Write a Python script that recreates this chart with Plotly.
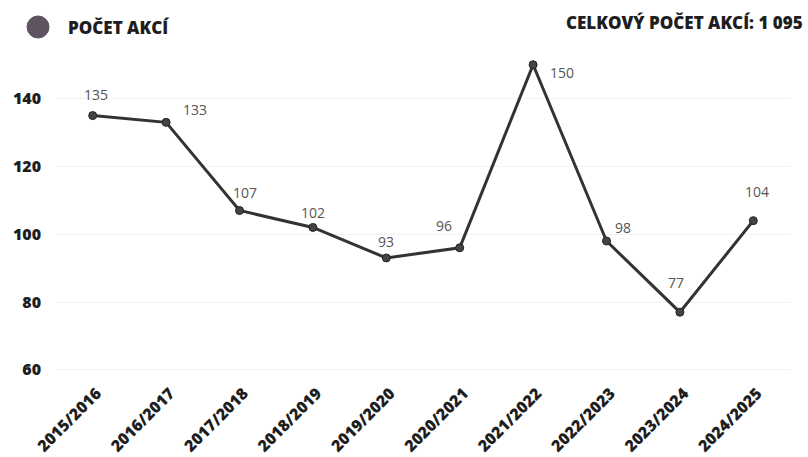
import plotly.graph_objects as go

seasons = ["2015/2016", "2016/2017", "2017/2018", "2018/2019", "2019/2020",
           "2020/2021", "2021/2022", "2022/2023", "2023/2024", "2024/2025"]
akce = [135, 133, 107, 102, 93, 96, 150, 98, 77, 104]
label_dx = [3, 29, 5, 0, 0, -16, 29, 16, -4, 4]
label_dy = [21, 13, 18, 15, 16, 22, -8, 14, 30, 29]
y_ticks = [60, 80, 100, 120, 140]
total_text = "CELKOVÝ POČET AKCÍ: 1 095"
legend_name = "POČET AKCÍ"

fig = go.Figure()
fig.add_trace(go.Scatter(
    x=seasons, y=akce, mode="lines+markers",
    line=dict(color="#333333", width=3),
    marker=dict(size=8, color="#444444", line=dict(color="#222222", width=1)),
    showlegend=False,
))

annotations = [dict(x=s, y=v, text=str(v), showarrow=False, xshift=dx, yshift=dy,
                    font=dict(family="Open Sans", size=14, color="#555555"))
               for s, v, dx, dy in zip(seasons, akce, label_dx, label_dy)]
annotations.append(dict(text=total_text, xref="paper", yref="paper",
                        x=1.021, y=1.056, xanchor="right", yanchor="middle",
                        showarrow=False,
                        font=dict(family="Open Sans", size=17, color="#1e1e1e", weight=800)))
annotations.append(dict(text=legend_name, xref="paper", yref="paper",
                        x=0.013, y=1.041, xanchor="left", yanchor="middle",
                        showarrow=False,
                        font=dict(family="Open Sans", size=17, color="#1e1e1e", weight=800)))

fig.update_layout(
    width=808, height=457,
    margin=dict(l=56, r=18, t=41, b=77, autoexpand=False),
    paper_bgcolor="white", plot_bgcolor="white",
    font=dict(family="Open Sans", color="#222222"),
    showlegend=False,
    annotations=annotations,
    shapes=[dict(type="circle", xref="paper", yref="paper",
                 xsizemode="pixel", ysizemode="pixel",
                 xanchor=-0.0245, yanchor=1.0413,
                 x0=-11, x1=11, y0=-11, y1=11,
                 fillcolor="#5e5360", line=dict(color="#5e5360", width=1))],
)
fig.update_xaxes(
    type="category", range=[-0.5, 9.5], tickangle=-45,
    tickfont=dict(family="Open Sans", size=16, color="#1e1e1e", weight=800),
    showgrid=False, showline=False, zeroline=False, ticks="",
    ticklabelshift=4,
)
fig.update_yaxes(
    range=[57, 157], tickvals=y_ticks,
    tickfont=dict(family="Open Sans", size=16, color="#1e1e1e", weight=800),
    showgrid=True, gridcolor="#f2f2f2", gridwidth=1,
    zeroline=False, showline=False, ticks="", ticklabelstandoff=14,
)

fig.write_html("out.html", config={"displayModeBar": False},
               post_script="document.body.style.margin='0';")
